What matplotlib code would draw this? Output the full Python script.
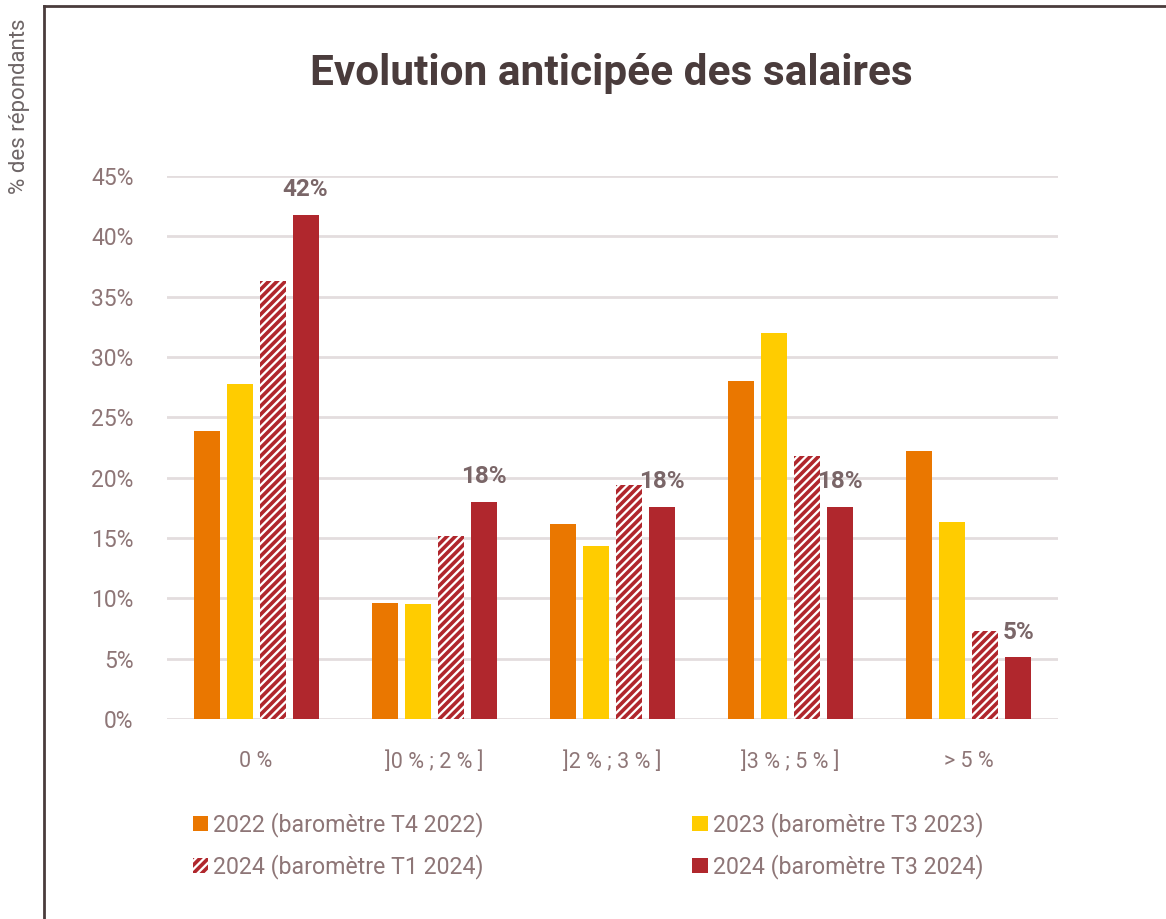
import matplotlib
matplotlib.use("Agg")
import matplotlib.pyplot as plt
import numpy as np
from matplotlib.patches import Patch
from matplotlib.lines import Line2D

categories = ["0 %", "]0 % ; 2 % ]", "]2 % ; 3 % ]", "]3 % ; 5 % ]", "> 5 %"]
series_names = ["2022 (baromètre T4 2022)", "2023 (baromètre T3 2023)",
                "2024 (baromètre T1 2024)", "2024 (baromètre T3 2024)"]
v2022 = [23.9, 9.6, 16.2, 28.0, 22.2]
v2023 = [27.8, 9.5, 14.3, 32.0, 16.3]
v2024_t1 = [36.3, 15.2, 19.4, 21.8, 7.3]
v2024_t3 = [41.8, 18.0, 17.6, 17.6, 5.1]
yticks = [0, 5, 10, 15, 20, 25, 30, 35, 40, 45]

ORANGE = "#EA7700"
YELLOW = "#FFCC00"
RED = "#B0272D"
TXT = "#8E7677"
LBL = "#7A6668"
DARK = "#4A3C3C"
GRID = "#E3DDDE"

plt.rcParams['font.family'] = ['Roboto', 'DejaVu Sans']
plt.rcParams['hatch.linewidth'] = 2.6

fig = plt.figure(figsize=(11.66, 9.19), dpi=100)
ax = fig.add_axes([167/1166, 1-719/919, (1058-167)/1166, (719-176)/919])

x = np.arange(len(categories))
w = 0.146
step = 0.185
offs = [-1.5*step, -0.5*step, 0.5*step, 1.5*step]

ax.bar(x+offs[0], v2022, w, color=ORANGE, zorder=3)
ax.bar(x+offs[1], v2023, w, color=YELLOW, zorder=3)
ax.bar(x+offs[2], v2024_t1, w, facecolor="white", edgecolor=RED, hatch="////", linewidth=0, zorder=3)
bars = ax.bar(x+offs[3], v2024_t3, w, color=RED, zorder=3)

for b, v in zip(bars, v2024_t3):
    ax.annotate(f"{round(v):d}%", (b.get_x()+b.get_width()/2, v), xytext=(0, 10),
                textcoords="offset points", ha="center", va="bottom",
                fontsize=17.5, fontweight="bold", color=LBL)

ax.set_xlim(-0.5, len(categories)-0.5)
ax.set_ylim(0, 45)
ax.set_yticks(yticks)
ax.set_yticklabels([f"{t}%" for t in yticks], fontsize=16.5, color=TXT)
ax.set_xticks(x)
ax.set_xticklabels(categories, fontsize=15.5, color=TXT)
ax.tick_params(length=0)
ax.tick_params(axis='y', pad=24)
ax.tick_params(axis='x', pad=23)
for s in ax.spines.values():
    s.set_visible(False)
ax.yaxis.grid(True, color=GRID, linewidth=2)
ax.set_axisbelow(True)

fig.text(611/1166, 1-73/919, "Evolution anticipée des salaires", ha="center", va="center",
         fontsize=30.5, fontweight="bold", color=DARK)
fig.text(20/1166, 1-18/919, "% des répondants", rotation=90, ha="center", va="top",
         fontsize=16, color="#6E6667")

# frame
fig.add_artist(Line2D([44/1166, 44/1166], [0, 1-6/919], transform=fig.transFigure, color=DARK, linewidth=2))
fig.add_artist(Line2D([44/1166, 1], [1-6/919, 1-6/919], transform=fig.transFigure, color=DARK, linewidth=2))

handles = [Patch(facecolor=ORANGE), Patch(facecolor="white", edgecolor=RED, hatch="////", linewidth=0),
           Patch(facecolor=YELLOW), Patch(facecolor=RED)]
labels = [series_names[0], series_names[2], series_names[1], series_names[3]]
fig.legend(handles, labels, ncol=2, loc="upper left", bbox_to_anchor=(193/1166, 1-812/919),
           frameon=False, fontsize=16.7, labelcolor=TXT, handlelength=0.65, handleheight=0.65,
           handletextpad=0.22, columnspacing=9.0, labelspacing=0.75, borderpad=0, borderaxespad=0)

fig.savefig("out.png", dpi=100)
